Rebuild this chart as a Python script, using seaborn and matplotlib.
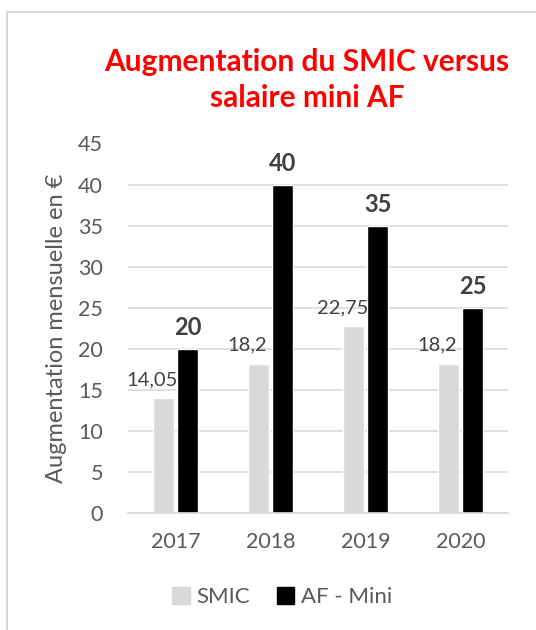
import pandas as pd
import matplotlib.pyplot as plt
import matplotlib.patches as mpatches
import seaborn as sns

# Chart data
years = ["2017", "2018", "2019", "2020"]
smic = [14.05, 18.2, 22.75, 18.2]
af_mini = [20, 40, 35, 25]
series_names = ["SMIC", "AF - Mini"]
smic_labels = ["14,05", "18,2", "22,75", "18,2"]
af_labels = ["20", "40", "35", "25"]

df = pd.DataFrame({
    "Année": years * 2,
    "Série": [series_names[0]] * 4 + [series_names[1]] * 4,
    "Valeur": smic + af_mini,
})

sns.set_theme(style="white")
plt.rcParams['font.family'] = ['Lato', 'DejaVu Sans']

grey_txt = "#595959"
fig = plt.figure(figsize=(5.36, 6.3), dpi=100)
ax = fig.add_axes([128 / 536, 1 - 513 / 630, 380 / 536, (513 - 143.5) / 630])

sns.barplot(data=df, x="Année", y="Valeur", hue="Série",
            palette=["#D9D9D9", "#000000"], width=0.51, gap=0.14,
            saturation=1, ax=ax, legend=False)

ax.set_ylim(0, 45)
ax.set_yticks(range(0, 46, 5))
ax.yaxis.grid(True, color="#D9D9D9", linewidth=1.2)
ax.set_axisbelow(True)
for side in ["top", "right", "left"]:
    ax.spines[side].set_visible(False)
ax.spines["bottom"].set_color("#D9D9D9")
ax.spines["bottom"].set_linewidth(1.2)
ax.tick_params(axis="both", length=0, labelsize=15.5, colors=grey_txt)
ax.tick_params(axis="y", pad=18)
ax.tick_params(axis="x", pad=14)
ax.set_xlabel("")
ax.set_ylabel("Augmentation mensuelle en €", fontsize=17, color=grey_txt, labelpad=8)

# data labels
smic_bars = ax.containers[0]
af_bars = ax.containers[1]
for bar, lab in zip(smic_bars, smic_labels):
    ax.annotate(lab, (bar.get_x() + bar.get_width() / 2, bar.get_height()),
                xytext=(-8, 7), textcoords="offset points", ha="center", va="bottom",
                fontsize=14.5, color="#404040")
for bar, lab in zip(af_bars, af_labels):
    ax.annotate(lab, (bar.get_x() + bar.get_width() / 2, bar.get_height()),
                xytext=(0, 7), textcoords="offset points", ha="center", va="bottom",
                fontsize=17, fontweight="bold", color="#404040")

fig.text(307 / 536, 1 - 80 / 630, "Augmentation du SMIC versus\nsalaire mini AF",
         ha="center", va="center", fontsize=21.5, fontweight="bold", color="#FF0000",
         linespacing=1.35)

handles = [mpatches.Patch(color="#D9D9D9", label=series_names[0]),
           mpatches.Patch(color="#000000", label=series_names[1])]
fig.legend(handles=handles, loc="center", bbox_to_anchor=(282 / 536, 1 - 597 / 630),
           ncol=2, frameon=False, fontsize=16, handlelength=0.8, handleheight=0.8,
           handletextpad=0.3, columnspacing=1.2, labelcolor=grey_txt)

# chart frame
frame = mpatches.Rectangle((7 / 536, -0.1), 1.2, 1 - 12 / 630 + 0.1, transform=fig.transFigure,
                           fill=False, edgecolor="#D9D9D9", linewidth=1.5)
fig.patches.append(frame)

fig.savefig("out.png", dpi=100)
